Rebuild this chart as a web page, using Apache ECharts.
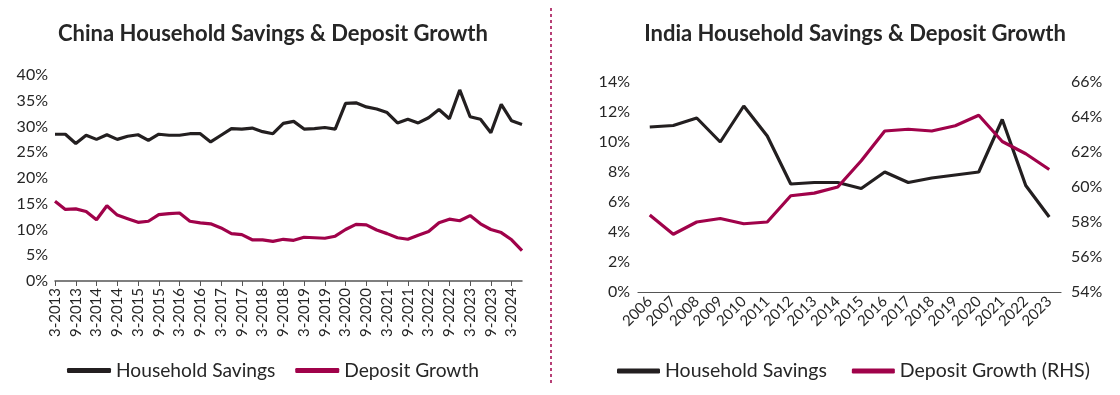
<!DOCTYPE html>
<html><head><meta charset="utf-8">
<script src="https://cdn.jsdelivr.net/npm/echarts@6/dist/echarts.min.js"></script>
<style>html,body{margin:0;padding:0;background:#fff}#c{width:1120px;height:395px}</style>
</head><body><div id="c"></div>
<script>
// China (quarterly)
const chinaCategories = ['3-2013','6-2013','9-2013','12-2013','3-2014','6-2014','9-2014','12-2014','3-2015','6-2015','9-2015','12-2015','3-2016','6-2016','9-2016','12-2016','3-2017','6-2017','9-2017','12-2017','3-2018','6-2018','9-2018','12-2018','3-2019','6-2019','9-2019','12-2019','3-2020','6-2020','9-2020','12-2020','3-2021','6-2021','9-2021','12-2021','3-2022','6-2022','9-2022','12-2022','3-2023','6-2023','9-2023','12-2023','3-2024','6-2024'];
const chinaSavings = [28.5,28.5,26.7,28.3,27.5,28.4,27.5,28.1,28.4,27.3,28.5,28.3,28.3,28.6,28.6,27.0,28.3,29.6,29.5,29.7,29.0,28.6,30.6,31.0,29.5,29.6,29.8,29.5,34.5,34.6,33.8,33.4,32.7,30.7,31.4,30.7,31.7,33.3,31.5,37.1,31.9,31.4,28.8,34.3,31.1,30.4];
const chinaDeposit = [15.5,13.9,14.0,13.5,11.9,14.6,12.8,12.1,11.4,11.6,12.9,13.1,13.2,11.6,11.3,11.1,10.3,9.2,9.0,8.0,8.0,7.7,8.1,7.9,8.5,8.4,8.3,8.7,10.0,11.0,10.9,9.9,9.2,8.4,8.1,8.9,9.6,11.3,12.0,11.7,12.7,11.1,10.0,9.4,8.0,5.9];
// India (annual)
const indiaYears = ['2006','2007','2008','2009','2010','2011','2012','2013','2014','2015','2016','2017','2018','2019','2020','2021','2022','2023'];
const indiaSavings = [11.0,11.1,11.6,10.0,12.4,10.4,7.2,7.3,7.3,6.9,8.0,7.3,7.6,7.8,8.0,11.5,7.1,5.0];
const indiaDeposit = [58.4,57.3,58.0,58.2,57.9,58.0,59.5,59.65,60.0,61.5,63.2,63.3,63.2,63.5,64.1,62.6,61.9,61.0];

const BLACK = '#231f20', RED = '#a0024a', TXT = '#262626', FONT = 'Lato';
const chart = echarts.init(document.getElementById('c'), null, {renderer:'canvas'});
const titleStyle = {fontFamily:FONT, fontWeight:'bold', fontSize:22, color:TXT};
const lbl = {fontFamily:FONT, fontSize:16, color:TXT};
chart.setOption({
  animation:false,
  title:[
    {text:'China Household Savings & Deposit Growth', left:268, top:18, textAlign:'center', textStyle:titleStyle},
    {text:'India Household Savings & Deposit Growth', left:850, top:18, textAlign:'center', textStyle:titleStyle}
  ],
  legend:[
    {data:['Household Savings','Deposit Growth'], left:62, top:356, icon:'roundRect', itemWidth:44, itemHeight:5, itemGap:20,
     textStyle:{fontFamily:FONT, fontSize:19.2, color:TXT}},
    {data:['Household Savings','Deposit Growth (RHS)'], left:612, top:356, icon:'roundRect', itemWidth:43, itemHeight:5, itemGap:25,
     textStyle:{fontFamily:FONT, fontSize:19.5, color:TXT}}
  ],
  grid:[
    {left:55, width:467, top:75, height:206, containLabel:false},
    {left:638, width:423, top:82, height:210, containLabel:false}
  ],
  xAxis:[
    {type:'category', gridIndex:0, data:chinaCategories, boundaryGap:false,
     axisLine:{lineStyle:{color:'#555', width:1.5}},
     axisTick:{interval:1, length:5, lineStyle:{color:'#555'}},
     axisLabel:{interval:1, rotate:90, margin:7, fontFamily:FONT, fontSize:15, color:TXT}},
    {type:'category', gridIndex:1, data:indiaYears, boundaryGap:true,
     axisLine:{lineStyle:{color:'#555', width:1.2}},
     axisTick:{show:false},
     axisLabel:{interval:0, rotate:45, margin:7, fontFamily:FONT, fontSize:15, color:TXT}}
  ],
  yAxis:[
    {type:'value', gridIndex:0, min:0, max:40, interval:5, splitLine:{show:false}, axisLine:{show:false}, axisTick:{show:false},
     axisLabel:Object.assign({formatter:'{value}%', margin:7}, lbl)},
    {type:'value', gridIndex:1, min:0, max:14, interval:2, splitLine:{show:false}, axisLine:{show:false}, axisTick:{show:false},
     axisLabel:Object.assign({formatter:'{value}%', margin:8}, lbl)},
    {type:'value', gridIndex:1, position:'right', min:54, max:66, interval:2, splitLine:{show:false}, axisLine:{show:false}, axisTick:{show:false},
     axisLabel:Object.assign({formatter:'{value}%', margin:10}, lbl)}
  ],
  series:[
    {name:'Household Savings', type:'line', xAxisIndex:0, yAxisIndex:0, data:chinaSavings, symbol:'none', lineStyle:{color:BLACK, width:3.2}, itemStyle:{color:BLACK}},
    {name:'Deposit Growth', type:'line', xAxisIndex:0, yAxisIndex:0, data:chinaDeposit, symbol:'none', lineStyle:{color:RED, width:3.2}, itemStyle:{color:RED}},
    {name:'Household Savings', type:'line', xAxisIndex:1, yAxisIndex:1, data:indiaSavings, symbol:'none', lineStyle:{color:BLACK, width:3.2}, itemStyle:{color:BLACK}},
    {name:'Deposit Growth (RHS)', type:'line', xAxisIndex:1, yAxisIndex:2, data:indiaDeposit, symbol:'none', lineStyle:{color:RED, width:3.2}, itemStyle:{color:RED}}
  ],
  graphic:[
    {type:'line', shape:{x1:551, y1:8, x2:551, y2:386}, style:{stroke:RED, lineWidth:1.5, lineDash:[3,3]}}
  ]
});
</script></body></html>
